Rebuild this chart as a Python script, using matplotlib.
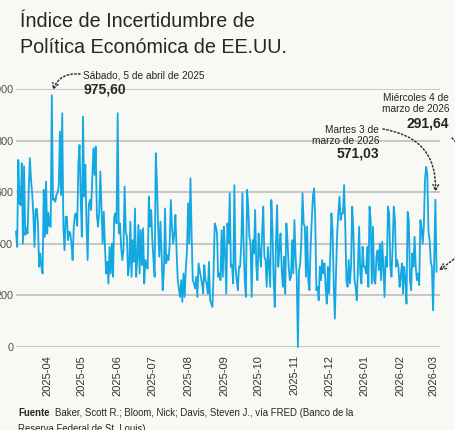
import pandas as pd
import matplotlib
matplotlib.use('Agg')
import matplotlib.pyplot as plt
from matplotlib import font_manager

# daily index values (5 Mar 2025 - 4 Mar 2026)
last_day = '2026-03-04'
epu_mar_sep = [
    447, 388, 725, 557, 550, 712, 400, 700, 434, 460, 440, 600, 732, 648, 596, 518,
    388, 531, 537, 479, 311, 363, 311, 285, 609, 427, 641, 440, 520, 470, 466, 975.60,
    570, 575, 563, 589, 600, 622, 835, 589, 906,
    466, 375, 505, 505, 414, 447, 440, 401, 337, 465, 512, 518, 470, 712, 783, 576,
    427, 893,
    583, 706, 479, 337, 550, 570, 531, 648, 770, 667, 777, 512, 466, 524, 680, 544,
    401, 524, 388, 285, 330, 246, 388, 285, 401, 272, 505, 518, 479, 906,
    440, 479, 388, 337, 375, 622, 447, 427, 278, 317, 486, 272, 414, 330, 537, 272,
    343, 473, 285, 453, 317, 460, 246, 337, 311, 304, 583, 466, 531, 414, 337, 272,
    751,
    635, 466, 350, 486, 363, 220, 298, 537, 324, 356, 337, 395, 570, 466, 401, 440,
    512, 369, 259, 227, 194, 259, 175, 285, 194, 304, 375, 557, 401, 654,
    440, 259, 246, 227, 272, 194, 324, 298, 272, 246, 207, 317, 259, 246, 207, 330,
    181, 168, 155,
    285, 479, 466, 440, 272, 285, 259, 453, 272, 466, 363, 207, 479, 401, 596,
]
epu_sep_mar = [
    311, 317, 246, 627,
    311, 259, 220, 311, 311, 401, 596, 401, 259, 194, 609, 544, 427, 401, 194, 414,
    363, 531, 311, 259, 440, 363, 311, 440, 544, 350, 337, 233, 388, 311, 233, 570,
    453, 259, 155,
    401, 550, 311, 388, 440, 298, 233, 350, 207, 479, 414, 311, 259, 272, 414, 285,
    492, 350, 272, 0,
    298, 324, 414, 596, 479, 466, 272, 466, 259, 220, 388, 492, 583, 615, 492, 220,
    233, 181, 311, 259, 337, 285, 324, 233, 168, 311, 207, 350, 518, 453, 246, 110,
    285, 440, 518, 583, 492, 518, 518, 628,
    466, 259, 233, 337, 246, 311, 544, 453, 259, 233, 181, 311, 466, 285, 246, 388,
    311, 311, 285, 388, 233, 544, 492, 246, 466, 259, 246, 350, 375, 298, 401, 259,
    408, 311, 194, 350, 311, 544, 518, 311, 272, 388, 544, 492, 311, 337, 311, 233,
    272, 324, 207, 311, 259, 168, 524,
    492, 259, 220, 363, 311, 427, 311, 259, 285, 240, 492, 466, 401, 466, 648, 699,
    667, 450, 414, 330, 311, 142, 337, 571.03, 291.64,
]
month_ticks = ['2025-04', '2025-05', '2025-06', '2025-07', '2025-08', '2025-09',
               '2025-10', '2025-11', '2025-12', '2026-01', '2026-02', '2026-03']
y_ticks = [0, 200, 400, 600, 800, 1000]

values = epu_mar_sep + epu_sep_mar
dates = pd.date_range(end=last_day, periods=len(values), freq='D')

names = {f.name for f in font_manager.fontManager.ttflist}
narrow = 'Liberation Sans Narrow' if 'Liberation Sans Narrow' in names else 'Liberation Sans'
regular = 'Liberation Sans'
note_size = 8.2 if narrow != regular else 7.3

W, H = 455, 430
bg = '#f8f8f5'
ink = '#262626'


def px(x, y):
    return (x / W, 1 - y / H)


fig = plt.figure(figsize=(W / 100, H / 100), dpi=100)
fig.patch.set_facecolor(bg)
ax = fig.add_axes([16 / W, 83 / H, 424 / W, 258 / H])
ax.set_facecolor(bg)

ax.plot(dates, values, color='#14a8e3', lw=1.3, clip_on=False, zorder=3)

ax.set_ylim(0, 1000)
ax.set_xlim(dates[0], dates[-1] + pd.Timedelta(days=3))
ax.set_yticks(y_ticks)
ax.set_yticklabels([str(v) for v in y_ticks], family=narrow, fontsize=7.8, color='#505050')
ax.set_xticks(pd.to_datetime(month_ticks))
ax.set_xticklabels(month_ticks, rotation=90, family=regular, fontsize=8, color='#333333')
ax.tick_params(axis='both', length=0)
ax.tick_params(axis='y', pad=2)
ax.tick_params(axis='x', pad=6)
ax.yaxis.grid(True, color='#c6c6c6', lw=1.4)
ax.set_axisbelow(True)
for s in ax.spines.values():
    s.set_visible(False)

# title
fig.text(*px(20, 27), 'Índice de Incertidumbre de', family=regular, fontsize=14.2,
         color=ink, va='baseline')
fig.text(*px(20, 53), 'Política Económica de EE.UU.', family=regular, fontsize=14.2,
         color=ink, va='baseline')

# annotations
arrow = dict(arrowstyle='->', linestyle=(0, (1, 1.5)), color='#333333', lw=1.1,
             shrinkA=0, shrinkB=2)
peak_day = pd.Timestamp('2025-04-05')
ax.annotate('', xy=(peak_day, 985), xycoords='data', xytext=px(80, 74),
            textcoords='figure fraction',
            arrowprops=dict(arrow, connectionstyle='arc3,rad=0.4'), annotation_clip=False)
fig.text(*px(83, 78), 'Sábado, 5 de abril de 2025', family=narrow, fontsize=note_size,
         color=ink, va='baseline')
fig.text(*px(83, 94), '975,60', family=regular, fontsize=10, weight='bold',
         color=ink, va='baseline')

fig.text(*px(379, 133), 'Martes 3 de', family=narrow, fontsize=note_size, color=ink,
         va='baseline', ha='right')
fig.text(*px(379, 144), 'marzo de 2026', family=narrow, fontsize=note_size, color=ink,
         va='baseline', ha='right')
fig.text(*px(379, 158), '571,03', family=regular, fontsize=10, weight='bold',
         color=ink, va='baseline', ha='right')
ax.annotate('', xy=(dates[-2], 590), xycoords='data', xytext=px(383, 129),
            textcoords='figure fraction',
            arrowprops=dict(arrow, connectionstyle='arc3,rad=-0.45'), annotation_clip=False)

fig.text(*px(449, 101), 'Miércoles 4 de', family=narrow, fontsize=note_size, color=ink,
         va='baseline', ha='right')
fig.text(*px(449, 112), 'marzo de 2026', family=narrow, fontsize=note_size, color=ink,
         va='baseline', ha='right')
fig.text(*px(449, 127), '291,64', family=regular, fontsize=10, weight='bold',
         color=ink, va='baseline', ha='right')
ax.annotate('', xy=(dates[-1], 291.64), xycoords='data', xytext=px(452, 138),
            textcoords='figure fraction',
            arrowprops=dict(arrow, connectionstyle='arc3,rad=-0.6'), annotation_clip=False)

# source
fig.text(*px(18, 416), 'Fuente', family=regular, fontsize=6.9, weight='bold',
         color=ink, va='baseline')
fig.text(*px(55, 416), 'Baker, Scott R.; Bloom, Nick; Davis, Steven J., vía FRED (Banco de la',
         family=regular, fontsize=6.9, color=ink, va='baseline')
fig.text(*px(18, 432), 'Reserva Federal de St. Louis)', family=regular, fontsize=6.9,
         color=ink, va='baseline')

fig.savefig('out.png', dpi=100, facecolor=bg)
